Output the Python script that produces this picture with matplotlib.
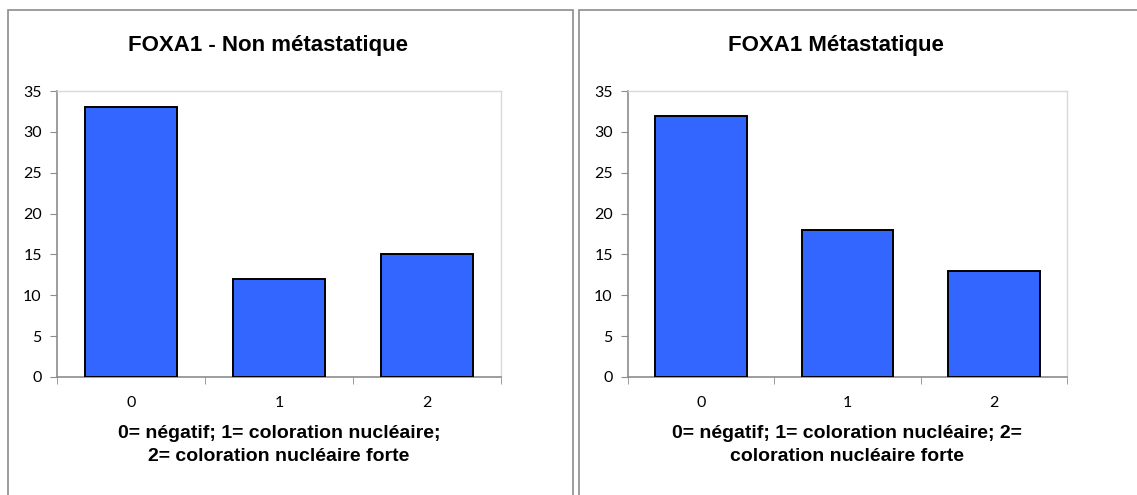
import numpy as np
import matplotlib.pyplot as plt
from matplotlib.patches import Rectangle
from matplotlib.ticker import FixedLocator

# Données
categories = ['0', '1', '2']
non_meta = [33, 12, 15]
meta = [32, 18, 13]
titres = ['FOXA1 - Non métastatique', 'FOXA1 Métastatique']
legendes = ['0= négatif; 1= coloration nucléaire;\n2= coloration nucléaire forte',
            '0= négatif; 1= coloration nucléaire; 2=\ncoloration nucléaire forte']

W, H = 1137, 495
fig = plt.figure(figsize=(W / 100, H / 100), dpi=100)
fig.patch.set_facecolor('white')

# cadres des deux graphiques
gris = '#8c8c8c'
fig.add_artist(Rectangle((8 / W, -0.1), (573 - 8) / W, 1.1 - 10 / H, transform=fig.transFigure,
                         fill=False, edgecolor=gris, linewidth=1.2))
fig.add_artist(Rectangle((579 / W, -0.1), 0.6, 1.1 - 10 / H, transform=fig.transFigure,
                         fill=False, edgecolor=gris, linewidth=1.2))

positions = [(57, 501, 268, 279), (628, 1067, 836, 847)]
x = np.arange(len(categories))

for (x0, x1, xt, xl), vals, titre, leg in zip(positions, [non_meta, meta], titres, legendes):
    ax = fig.add_axes([x0 / W, 1 - 377 / H, (x1 - x0) / W, (377 - 91) / H])
    ax.bar(x, vals, width=0.625, color='#3366ff', edgecolor='black', linewidth=1.4, zorder=3)
    ax.set_xlim(-0.5, 2.5)
    ax.set_ylim(0, 35)
    ax.set_yticks(range(0, 36, 5))
    ax.set_xticks(x)
    ax.set_xticklabels(categories)
    ax.xaxis.set_minor_locator(FixedLocator([-0.5, 0.5, 1.5, 2.5]))
    ax.tick_params(axis='x', which='major', length=0, pad=14)
    ax.tick_params(axis='x', which='minor', length=5, color=gris, direction='out')
    ax.tick_params(axis='y', length=5, color=gris, pad=6)
    for lab in ax.get_xticklabels() + ax.get_yticklabels():
        lab.set_fontfamily('Lato')
        lab.set_fontsize(11.5)
    for s in ['left', 'bottom']:
        ax.spines[s].set_color(gris)
        ax.spines[s].set_linewidth(1.2)
    for s in ['top', 'right']:
        ax.spines[s].set_color('#d9d9d9')
        ax.spines[s].set_linewidth(1.0)
    fig.text(xt / W, 1 - 45 / H, titre, ha='center', va='center',
             fontfamily='Liberation Sans', fontweight='bold', fontsize=16)
    fig.text(xl / W, 1 - 445 / H, leg, ha='center', va='center', linespacing=1.5,
             fontfamily='Liberation Sans', fontweight='bold', fontsize=14)

fig.savefig('out.png', dpi=100)
